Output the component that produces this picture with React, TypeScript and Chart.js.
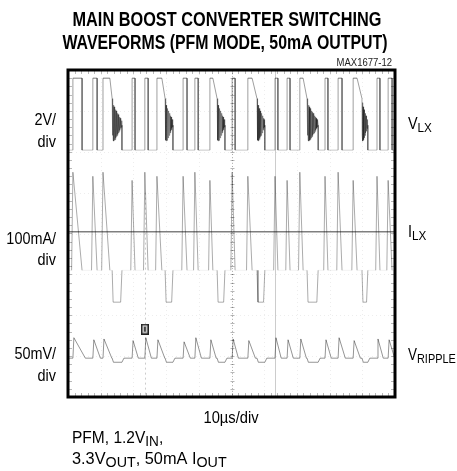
import { useEffect, useRef } from "react";
import { Chart, registerables } from "chart.js";

Chart.register(...registerables);

// Time axis in µs (10 µs/div), vertical axis in scope divisions (8 div)
const X_MAX = 100;
const Y_MAX = 8;

// V_LX switching pulses: [rising edge, falling edge] in µs
const VLX_PULSES: [number, number][] = [
  [1.5, 4.3], [7.6, 8.9], [10.7, 12.8],
  [19.6, 20.5], [23.5, 24.5], [27.2, 28.7],
  [35.2, 36.4], [38.8, 39.8], [43.4, 44.3],
  [50.2, 51.1], [55.0, 56.3],
  [63.3, 64.2], [67.0, 67.9], [70.9, 71.9],
  [78.6, 79.5], [82.6, 83.8], [87.2, 88.4],
  [94.5, 95.4], [97.9, 99.1],
];
// Ringing bursts after each pulse group: [start, end] in µs
const VLX_RINGS: [number, number][] = [
  [13.5, 16.5], [29.7, 32.1], [45.6, 48.0], [57.8, 60.2], [73.1, 76.5], [89.9, 91.7],
];
const VLX_LOW = 6.04;
const VLX_HIGH = 7.8;
const VLX_VIN = 6.7;
const RING = [
  0.6, -0.3, 0.5, -0.42, 0.44, -0.44, 0.4, -0.42, 0.36, -0.4, 0.33, -0.36, 0.3, -0.33,
  0.27, -0.3, 0.24, -0.27, 0.21, -0.24, 0.18, -0.2, 0.15, -0.17, 0.12, -0.13, 0.09, -0.1, 0.06, -0.05,
];

const ILX_BASE = 3.1;
const ILX_ZERO = 4.04;
const ILX_DIP = 2.32;
const ILX_PEAKS = [5.5, 5.4, 5.5, 5.3, 5.5, 5.4, 5.4, 5.5, 5.3, 5.5, 5.4, 5.4, 5.3, 5.5, 5.4, 5.5, 5.3, 5.4, 5.3];

const VR_BASE = 0.95;
const VR_LOW = 0.85;
const VR_PEAKS = [1.45, 1.4, 1.42, 1.38, 1.45, 1.4, 1.35, 1.45, 1.4, 1.42, 1.38, 1.45, 1.4, 1.42, 1.4, 1.45, 1.38, 1.42, 1.4];

const CURSORS = [23.5, 63.3];
const TRIGGER_X = [23.5];
const TRIGGER_Y = [1.66];

const TITLE = ["MAIN BOOST CONVERTER SWITCHING", "WAVEFORMS (PFM MODE, 50mA OUTPUT)"];
const FIG_ID = "MAX1677-12";
const X_LABEL = "10µs/div";

type Pt = { x: number; y: number };
type Ev = { kind: "p" | "r"; i: number; a: number; b: number };

const EVENTS: Ev[] = [
  ...VLX_PULSES.map((p, i) => ({ kind: "p" as const, i, a: p[0], b: p[1] })),
  ...VLX_RINGS.map((r, i) => ({ kind: "r" as const, i, a: r[0], b: r[1] })),
].sort((m, n) => m.a - n.a);

function buildVLX(): Pt[] {
  const pts: Pt[] = [{ x: 0, y: VLX_LOW }];
  EVENTS.forEach((e, k) => {
    const next = EVENTS[k + 1];
    if (e.kind === "p") {
      pts.push({ x: e.a, y: VLX_LOW }, { x: e.a, y: VLX_HIGH }, { x: e.b, y: VLX_HIGH });
      if (!next || next.kind === "p") pts.push({ x: e.b, y: VLX_LOW });
    } else {
      RING.forEach((o, j) => pts.push({ x: e.a + ((e.b - e.a) * j) / (RING.length - 1), y: VLX_VIN + o }));
      pts.push({ x: e.b, y: VLX_LOW });
    }
  });
  pts.push({ x: X_MAX, y: VLX_LOW });
  return pts;
}

function buildILX(): Pt[] {
  const pts: Pt[] = [{ x: 0, y: ILX_BASE }];
  EVENTS.forEach((e) => {
    if (e.kind === "p") {
      pts.push({ x: e.a - 0.4, y: ILX_BASE }, { x: e.a, y: ILX_PEAKS[e.i] }, { x: e.b, y: ILX_BASE });
    } else {
      pts.push({ x: e.a, y: ILX_BASE }, { x: e.a + 0.3, y: ILX_DIP }, { x: e.b - 0.4, y: ILX_DIP }, { x: e.b, y: ILX_BASE });
    }
  });
  pts.push({ x: X_MAX, y: ILX_BASE });
  return pts;
}

function buildVR(): Pt[] {
  const pts: Pt[] = [{ x: 0, y: VR_BASE }];
  EVENTS.forEach((e, k) => {
    const nextA = EVENTS[k + 1] ? EVENTS[k + 1].a : X_MAX;
    if (e.kind === "p") {
      pts.push({ x: e.a, y: VR_BASE }, { x: e.a + 0.3, y: VR_PEAKS[e.i] }, { x: Math.min(e.b + 1.0, nextA - 0.1), y: VR_BASE });
    } else {
      pts.push({ x: e.a, y: VR_BASE }, { x: e.a + 0.4, y: VR_LOW }, { x: e.b, y: VR_LOW }, { x: Math.min(e.b + 0.6, nextA - 0.1), y: VR_BASE });
    }
  });
  pts.push({ x: X_MAX, y: VR_BASE });
  return pts;
}

type Seg = { t: string; sub?: boolean };
const FONT = '"Liberation Sans", Arial, sans-serif';

function drawRich(ctx: CanvasRenderingContext2D, segs: Seg[], x: number, y: number, size: number, align: "left" | "right" | "center", sx: number, subScale = 0.8) {
  const f = (s: number) => `${s}px ${FONT}`;
  const subSize = Math.round(size * subScale);
  let w = 0;
  const widths = segs.map((s) => {
    ctx.font = f(s.sub ? subSize : size);
    const m = ctx.measureText(s.t).width;
    w += m;
    return m;
  });
  ctx.save();
  ctx.translate(x, y);
  ctx.scale(sx, 1);
  ctx.textBaseline = "alphabetic";
  ctx.textAlign = "left";
  let cx = align === "left" ? 0 : align === "right" ? -w : -w / 2;
  segs.forEach((s, i) => {
    ctx.font = f(s.sub ? subSize : size);
    ctx.fillText(s.t, cx, s.sub ? size * 0.18 : 0);
    cx += widths[i];
  });
  ctx.restore();
}

function drawFit(ctx: CanvasRenderingContext2D, text: string, cx: number, y: number, size: number, targetW: number) {
  ctx.save();
  ctx.font = `bold ${size}px ${FONT}`;
  const w = ctx.measureText(text).width;
  ctx.translate(cx, y);
  ctx.scale(targetW / w, 1);
  ctx.textAlign = "center";
  ctx.textBaseline = "alphabetic";
  ctx.fillText(text, 0, 0);
  ctx.restore();
}

function makeTriggerIcon(): HTMLCanvasElement {
  const c = document.createElement("canvas");
  c.width = 8;
  c.height = 11;
  const g = c.getContext("2d")!;
  g.fillStyle = "#cfcfcf";
  g.fillRect(0, 0, 8, 11);
  g.strokeStyle = "#222";
  g.lineWidth = 1.5;
  g.strokeRect(0.75, 0.75, 6.5, 9.5);
  g.fillStyle = "#444";
  g.fillRect(3, 3, 2, 5);
  return c;
}

const scopePlugin = {
  id: "scope",
  beforeDatasetsDraw(chart: any) {
    const { ctx, chartArea: a, scales } = chart;
    const xs = scales.x;
    const ys = scales.y;
    ctx.save();
    ctx.strokeStyle = "rgba(0,0,0,0.07)";
    ctx.lineWidth = 1;
    ctx.setLineDash([1, 3]);
    for (let i = 1; i < 10; i++) {
      const px = Math.round(xs.getPixelForValue(i * 10)) + 0.5;
      ctx.beginPath();
      ctx.moveTo(px, a.top);
      ctx.lineTo(px, a.bottom);
      ctx.stroke();
    }
    for (let j = 1; j < 8; j++) {
      const py = Math.round(ys.getPixelForValue(j)) + 0.5;
      ctx.beginPath();
      ctx.moveTo(a.left, py);
      ctx.lineTo(a.right, py);
      ctx.stroke();
    }
    ctx.setLineDash([]);
    ctx.strokeStyle = "rgba(0,0,0,0.2)";
    CURSORS.forEach((c, k) => {
      const px = Math.round(xs.getPixelForValue(c)) + 0.5;
      ctx.setLineDash(k === 0 ? [2, 3] : []);
      ctx.beginPath();
      ctx.moveTo(px, k === 0 ? ys.getPixelForValue(5) : a.top);
      ctx.lineTo(px, a.bottom);
      ctx.stroke();
    });
    ctx.setLineDash([]);
    const cxp = Math.round(xs.getPixelForValue(50)) + 0.5;
    ctx.strokeStyle = "rgba(0,0,0,0.28)";
    ctx.setLineDash([1, 2]);
    ctx.beginPath();
    ctx.moveTo(cxp, a.top);
    ctx.lineTo(cxp, a.bottom);
    ctx.stroke();
    ctx.setLineDash([]);
    for (let v = 0; v <= Y_MAX; v += 0.2) {
      const py = Math.round(ys.getPixelForValue(v)) + 0.5;
      ctx.beginPath();
      ctx.moveTo(cxp - 2, py);
      ctx.lineTo(cxp + 2, py);
      ctx.stroke();
    }
    ctx.strokeStyle = "rgba(0,0,0,0.28)";
    for (let v = 0; v <= Y_MAX; v += 0.2) {
      const py = Math.round(ys.getPixelForValue(v)) + 0.5;
      ctx.beginPath();
      ctx.moveTo(a.left, py);
      ctx.lineTo(a.left + 4, py);
      ctx.moveTo(a.right, py);
      ctx.lineTo(a.right - 4, py);
      ctx.stroke();
    }
    for (let t = 0; t <= X_MAX; t += 2) {
      const px = Math.round(xs.getPixelForValue(t)) + 0.5;
      ctx.beginPath();
      ctx.moveTo(px, a.top);
      ctx.lineTo(px, a.top + 4);
      ctx.moveTo(px, a.bottom);
      ctx.lineTo(px, a.bottom - 4);
      ctx.stroke();
    }
    ctx.restore();
  },
  afterDraw(chart: any) {
    const { ctx, chartArea: a } = chart;
    ctx.save();
    ctx.strokeStyle = "#000";
    ctx.lineWidth = 3;
    ctx.strokeRect(a.left, a.top, a.right - a.left, a.bottom - a.top);
    ctx.fillStyle = "#000";
    drawFit(ctx, TITLE[0], 227, 26, 21, 309);
    drawFit(ctx, TITLE[1], 225, 49, 21, 325);
    ctx.fillStyle = "#222";
    drawRich(ctx, [{ t: FIG_ID }], 392, 66, 10, "right", 0.95);
    ctx.fillStyle = "#000";
    const sx = 0.9;
    drawRich(ctx, [{ t: "2V/" }], 56, 125, 16, "right", sx);
    drawRich(ctx, [{ t: "div" }], 56, 147, 16, "right", sx);
    drawRich(ctx, [{ t: "100mA/" }], 56, 244, 16, "right", sx);
    drawRich(ctx, [{ t: "div" }], 56, 265, 16, "right", sx);
    drawRich(ctx, [{ t: "50mV/" }], 56, 359, 16, "right", sx);
    drawRich(ctx, [{ t: "div" }], 56, 381, 16, "right", sx);
    drawRich(ctx, [{ t: "V" }, { t: "LX", sub: true }], 408, 129, 16, "left", sx);
    drawRich(ctx, [{ t: "I" }, { t: "LX", sub: true }], 408, 237, 16, "left", sx);
    drawRich(ctx, [{ t: "V" }, { t: "RIPPLE", sub: true }], 408, 360, 16, "left", 0.84);
    drawRich(ctx, [{ t: X_LABEL }], 231, 423, 16, "center", 0.92);
    drawRich(ctx, [{ t: "PFM, 1.2V" }, { t: "IN", sub: true }, { t: "," }], 72, 443, 16, "left", 0.97, 0.85);
    drawRich(ctx, [{ t: "3.3V" }, { t: "OUT", sub: true }, { t: ", 50mA I" }, { t: "OUT", sub: true }], 72, 464, 16, "left", 1.02, 0.85);
    ctx.restore();
  },
};

export default function App() {
  const ref = useRef<HTMLCanvasElement>(null);
  useEffect(() => {
    if (!ref.current) return;
    const vlxColor = (c: any) => {
      const y0 = c.p0.parsed.y;
      const y1 = c.p1.parsed.y;
      const onRail = (y: number) => y === VLX_LOW || y === VLX_HIGH;
      if (!onRail(y0) && !onRail(y1)) return "rgba(0,0,0,0.36)";
      if (y0 === VLX_LOW && y1 === VLX_LOW) return "rgba(0,0,0,0.22)";
      if (y0 === VLX_HIGH && y1 === VLX_HIGH) return "rgba(0,0,0,0.5)";
      return "rgba(0,0,0,0.38)";
    };
    const ilxColor = (c: any) =>
      c.p0.parsed.y === ILX_BASE && c.p1.parsed.y === ILX_BASE ? "rgba(0,0,0,0.05)" : "rgba(0,0,0,0.33)";
    const chart = new Chart(ref.current, {
      type: "line",
      data: {
        datasets: [
          {
            label: "ILX zero",
            data: [{ x: 0, y: ILX_ZERO }, { x: X_MAX, y: ILX_ZERO }],
            borderColor: "rgba(0,0,0,0.5)",
            borderWidth: 1.5,
          },
          {
            label: "VLX",
            data: buildVLX(),
            borderColor: "rgba(0,0,0,0.4)",
            borderWidth: 1,
            segment: { borderColor: vlxColor },
          },
          {
            label: "ILX",
            data: buildILX(),
            borderColor: "rgba(0,0,0,0.33)",
            borderWidth: 1,
            segment: { borderColor: ilxColor },
          },
          {
            label: "VRIPPLE",
            data: buildVR(),
            borderColor: "rgba(0,0,0,0.42)",
            borderWidth: 1,
          },
          {
            label: "trigger",
            data: TRIGGER_X.map((x, i) => ({ x, y: TRIGGER_Y[i] })),
            showLine: false,
            pointRadius: 5,
            pointStyle: makeTriggerIcon() as any,
          },
        ] as any,
      },
      options: {
        animation: false,
        responsive: false,
        layout: { padding: { left: 68, top: 70, right: 62, bottom: 74 } },
        elements: { point: { radius: 0 }, line: { tension: 0 } },
        scales: {
          x: { type: "linear", min: 0, max: X_MAX, display: false },
          y: { type: "linear", min: 0, max: Y_MAX, display: false },
        },
        plugins: { legend: { display: false }, tooltip: { enabled: false } },
      },
      plugins: [scopePlugin],
    });
    return () => chart.destroy();
  }, []);
  return (
    <div style={{ position: "fixed", left: 0, top: 0, width: 457, height: 471, background: "#fff" }}>
      <canvas ref={ref} width={457} height={471} style={{ width: 457, height: 471 }} />
    </div>
  );
}
